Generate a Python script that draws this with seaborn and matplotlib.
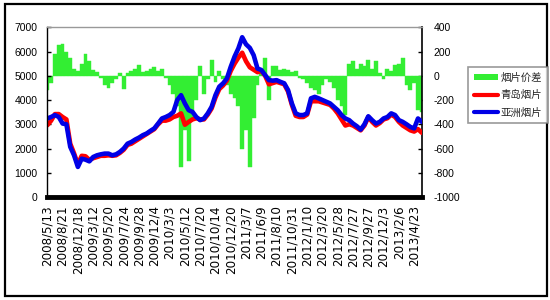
import numpy as np
import pandas as pd
import matplotlib
matplotlib.use("Agg")
import matplotlib.pyplot as plt
import seaborn as sns
from matplotlib.patches import Rectangle, Patch
from matplotlib.lines import Line2D

tick_labels = ["2008/5/13", "2008/8/21", "2008/12/18", "2009/3/12", "2009/5/20",
               "2009/7/24", "2009/9/28", "2009/12/4", "2010/3/3", "2010/5/12",
               "2010/7/20", "2010/10/14", "2010/12/20", "2011/3/7", "2011/6/9",
               "2011/8/10", "2011/10/31", "2012/1/10", "2012/3/20", "2012/5/28",
               "2012/7/27", "2012/9/27", "2012/12/3", "2013/2/6", "2013/4/23"]

series_names = ["烟片价差", "青岛烟片", "亚洲烟片"]

asia = [3240, 3300, 3380, 3300, 3030, 3000, 2070, 1720, 1240, 1580, 1540, 1470,
        1650, 1720, 1760, 1790, 1790, 1720, 1760, 1860, 2000, 2200, 2270, 2370,
        2450, 2550, 2620, 2730, 2830, 3030, 3240, 3300, 3380, 3510, 4000, 4200,
        3860, 3580, 3510, 3300, 3170, 3240, 3450, 3720, 4200, 4550, 4690, 4890,
        5370, 5790, 6130, 6590, 6300, 6150, 5850, 5300, 5240, 5030, 4820, 4800,
        4820, 4750, 4690, 4410, 3860, 3450, 3380, 3380, 3450, 4070, 4130, 4070,
        4000, 3930, 3860, 3720, 3580, 3380, 3240, 3170, 3030, 2920, 2780, 3000,
        3330, 3170, 3030, 3100, 3240, 3300, 3450, 3380, 3170, 3100, 3000, 2890,
        2830, 3240, 3100]

qingdao = [2960, 3150, 3420, 3420, 3300, 3200, 2200, 1800, 1350, 1700, 1680, 1530,
           1600, 1650, 1700, 1700, 1720, 1700, 1720, 1820, 1950, 2150, 2200, 2300,
           2400, 2500, 2600, 2700, 2800, 3000, 3150, 3150, 3200, 3300, 3350, 3450,
           2980, 3100, 3200, 3250, 3200, 3200, 3400, 3650, 4100, 4450, 4600, 4800,
           5200, 5500, 5750, 5950, 5600, 5350, 5250, 5150, 5200, 5000, 4650, 4700,
           4750, 4700, 4650, 4350, 3800, 3350, 3300, 3300, 3400, 3950, 3950, 3950,
           3900, 3850, 3800, 3650, 3450, 3200, 2950, 3000, 2950, 2850, 2750, 2950,
           3300, 3100, 2950, 3050, 3200, 3250, 3400, 3300, 3100, 2950, 2850, 2750,
           2700, 2800, 2650]

spread = [-120, -60, 180, 250, 260, 200, 150, 60, 40, 100, 180, 120,
          50, 30, -20, -80, -100, -60, -30, 20, -110, 20, 40, 60,
          90, 30, 40, 60, 70, 40, 60, -20, -80, -150, -250, -750,
          -450, -700, -350, -200, 80, -150, -30, 130, -50, 40, -30, -80,
          -150, -180, -250, -600, -450, -750, -350, -80, 20, 150, -200, 80,
          80, 50, 60, 50, 30, 40, -20, -30, -60, -100, -120, -150,
          -80, -30, -50, -100, -200, -250, -320, 100, 120, 60, 100, 80,
          130, 60, 120, 20, -30, 60, 40, 90, 100, 150, -80, -120,
          -60, -280, -300]

left_ticks = [0, 1000, 2000, 3000, 4000, 5000, 6000, 7000]
right_ticks = [-1000, -800, -600, -400, -200, 0, 200, 400]

sns.set_theme(style="white")
plt.rcParams["font.family"] = ["Liberation Sans", "Noto Sans CJK SC", "DejaVu Sans"]

fig = plt.figure(figsize=(5.5, 3), dpi=100)
fig.patch.set_facecolor("white")
ax = fig.add_axes([47.3 / 550, 1 - 197 / 300, 375 / 550, 169.7 / 300])
ax2 = ax.twinx()

idx = np.arange(len(asia))
df = pd.DataFrame({"idx": idx, "qingdao": qingdao, "asia": asia, "spread": spread})

green = "#33ee33"
red = "#ff0000"
blue = "#0000e6"

ax2.bar(df["idx"], df["spread"], width=1.0, color=green, linewidth=0.3,
        edgecolor=green, zorder=1)
sns.lineplot(data=df, x="idx", y="qingdao", ax=ax, color=red, lw=3.3)
sns.lineplot(data=df, x="idx", y="asia", ax=ax, color=blue, lw=3.3)

ax.set_zorder(ax2.get_zorder() + 1)
ax.patch.set_visible(False)

ax.set_xlim(0, 98.13)
ax.set_ylim(0, 7000)
ax2.set_ylim(-1000, 400)
ax.set_xlabel("")
ax.set_ylabel("")
ax2.set_ylabel("")

ax.set_yticks(left_ticks)
ax.set_yticklabels([str(v) for v in left_ticks], fontsize=7.5)
ax2.set_yticks(right_ticks)
ax2.set_yticklabels([str(v) for v in right_ticks], fontsize=7.5)
ax.set_xticks(idx[::4])
ax.set_xticklabels(tick_labels, rotation=90, fontsize=8.6, family="DejaVu Sans")

ax.tick_params(axis="y", direction="in", length=3, width=1, pad=7, colors="black")
ax2.tick_params(axis="y", direction="in", length=3, width=1, pad=8, colors="black")
ax.tick_params(axis="x", length=0, pad=6, colors="black")
ax.grid(False)
ax2.grid(False)

for s in ["left", "right", "top", "bottom"]:
    ax2.spines[s].set_visible(False)
ax2.spines["right"].set_visible(True)
ax2.spines["right"].set_color("black")
ax2.spines["right"].set_linewidth(1.2)
ax.spines["right"].set_visible(False)
ax.spines["left"].set_color("black")
ax.spines["left"].set_linewidth(1.0)
ax.spines["top"].set_color("#999999")
ax.spines["top"].set_linewidth(1.0)
ax.spines["bottom"].set_color("black")
ax.spines["bottom"].set_linewidth(3.5)

handles = [Patch(facecolor=green, edgecolor="none"),
           Line2D([0], [0], color=red, lw=3.0),
           Line2D([0], [0], color=blue, lw=3.0)]
leg = fig.legend(handles, series_names, loc="upper left",
                 bbox_to_anchor=(468 / 550, 1 - 67 / 300), frameon=True,
                 fancybox=False, edgecolor="#808080", fontsize=7.5,
                 handlelength=2.3, handleheight=0.6, handletextpad=0.3,
                 labelspacing=0.7, borderpad=0.55, borderaxespad=0)
leg.get_frame().set_linewidth(1.2)

fig.add_artist(Rectangle((5 / 550, 4 / 300), 542 / 550, 292 / 300,
                         transform=fig.transFigure, fill=False,
                         edgecolor="black", linewidth=1.6))

fig.savefig("out.png", dpi=100, facecolor="white")
